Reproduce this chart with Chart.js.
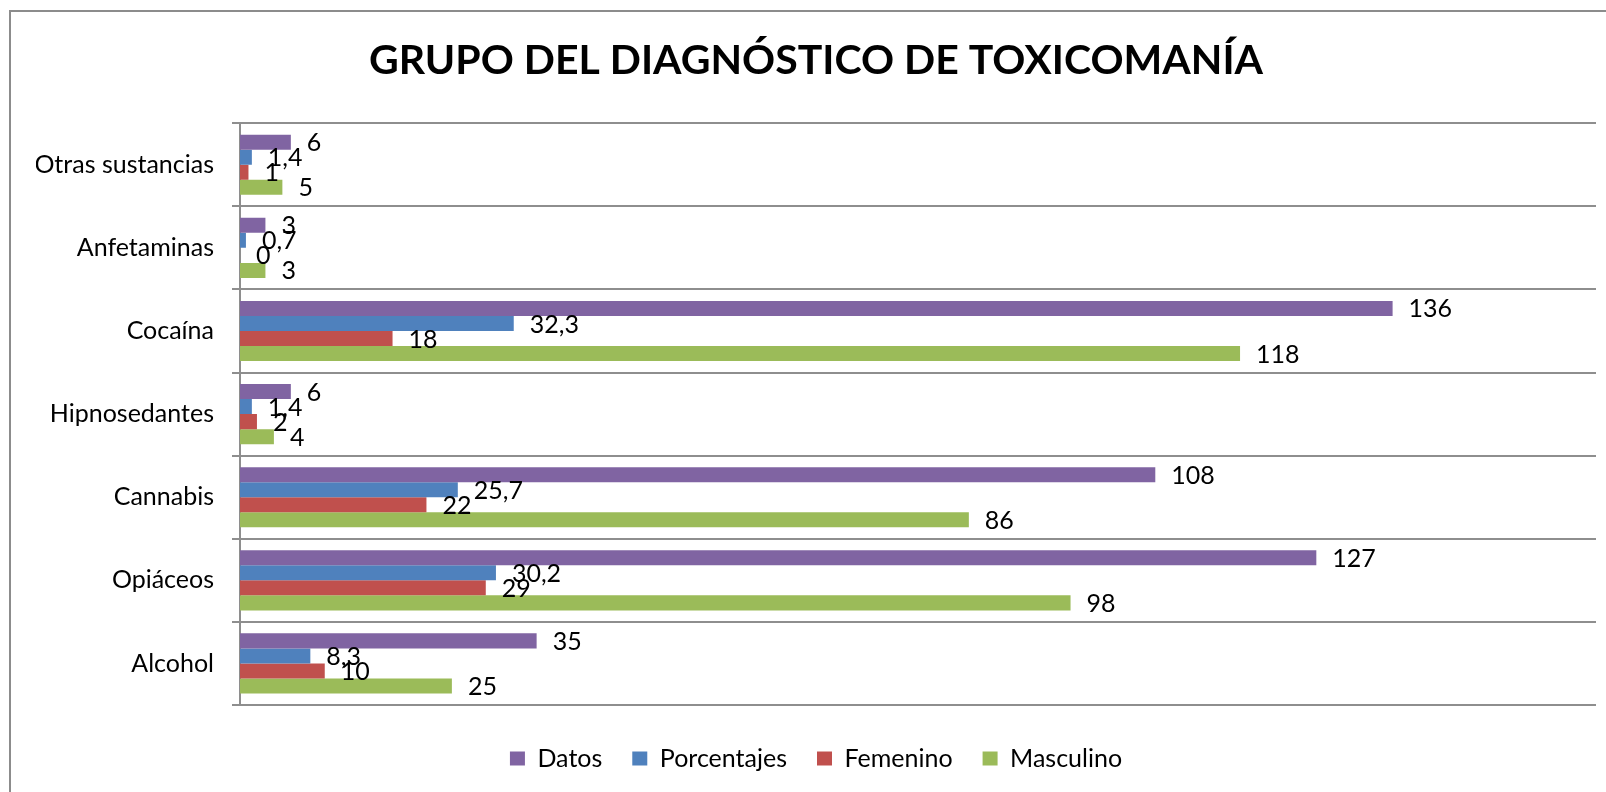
<!DOCTYPE html>
<html>
<head>
<meta charset="utf-8">
<script src="https://cdn.jsdelivr.net/npm/chart.js@4.4.1/dist/chart.umd.min.js"></script>
<style>
  html, body { margin: 0; padding: 0; background: #fff; overflow: hidden; }
  #wrap { position: relative; width: 1606px; height: 792px; }
  #frame { position: absolute; left: 9px; top: 10px; width: 1640px; height: 820px; border: 2px solid #8c8c8c; box-sizing: border-box; }
  #box { position: absolute; left: 0; top: 0; width: 1606px; height: 792px; }
</style>
</head>
<body>
<div id="wrap">
  <div id="frame"></div>
  <div id="box"><canvas id="c"></canvas></div>
</div>
<script>
const titleText = 'GRUPO DEL DIAGNÓSTICO DE TOXICOMANÍA';
const categories = ['Otras sustancias', 'Anfetaminas', 'Cocaína', 'Hipnosedantes', 'Cannabis', 'Opiáceos', 'Alcohol'];
const seriesNames = ['Datos', 'Porcentajes', 'Femenino', 'Masculino'];
const datos = [6, 3, 136, 6, 108, 127, 35];
const porcentajes = [1.4, 0.7, 32.3, 1.4, 25.7, 30.2, 8.3];
const femenino = [1, 0, 18, 2, 22, 29, 10];
const masculino = [5, 3, 118, 4, 86, 98, 25];
const xMax = 160;

const FONT = "Lato, 'Liberation Sans', sans-serif";
const colors = ['#8064A2', '#4F81BD', '#C0504D', '#9BBB59'];
const seriesValues = [datos, porcentajes, femenino, masculino];

function fmt(v) {
  return String(v).replace('.', ',');
}

const valueLabels = {
  id: 'valueLabels',
  afterDatasetsDraw(chart) {
    const ctx = chart.ctx;
    ctx.save();
    ctx.font = '25px ' + FONT;
    ctx.fillStyle = '#000';
    ctx.textAlign = 'left';
    ctx.textBaseline = 'middle';
    chart.data.datasets.forEach((ds, i) => {
      const meta = chart.getDatasetMeta(i);
      meta.data.forEach((bar, j) => {
        ctx.fillText(fmt(ds.data[j]), bar.x + 16, bar.y + 1);
      });
    });
    ctx.restore();
  }
};

new Chart(document.getElementById('c'), {
  type: 'bar',
  data: {
    labels: categories,
    datasets: seriesNames.map((name, i) => ({
      label: name,
      data: seriesValues[i],
      backgroundColor: colors[i],
      borderWidth: 0,
      categoryPercentage: 0.724,
      barPercentage: 1.0
    }))
  },
  options: {
    indexAxis: 'y',
    responsive: true,
    maintainAspectRatio: false,
    animation: false,
    layout: { padding: { left: 36, right: 10, top: 0, bottom: 11 } },
    scales: {
      x: {
        min: 0,
        max: xMax,
        display: true,
        ticks: { display: false },
        grid: { display: false },
        border: { display: false },
        afterFit: (s) => { s.height = 11; }
      },
      y: {
        grid: {
          display: true,
          color: '#8e8e8e',
          lineWidth: 2,
          offset: true,
          drawTicks: true,
          tickLength: 8
        },
        border: { display: true, color: '#8e8e8e', width: 2 },
        ticks: {
          color: '#000',
          padding: 18,
          font: { family: FONT, size: 25 }
        },
        afterFit: (s) => { s.width = 204; }
      }
    },
    plugins: {
      title: {
        display: true,
        text: titleText,
        color: '#000',
        font: { family: FONT, size: 41, weight: 'bold' },
        padding: { top: 36, bottom: 38 }
      },
      legend: {
        position: 'bottom',
        labels: {
          color: '#000',
          boxWidth: 15,
          boxHeight: 14,
          padding: 30,
          font: { family: FONT, size: 25 }
        }
      },
      tooltip: { enabled: false }
    }
  },
  plugins: [valueLabels]
});
</script>
</body>
</html>
